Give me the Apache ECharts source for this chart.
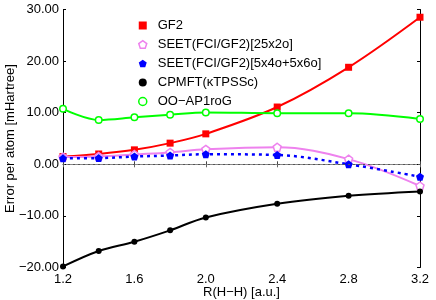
<!DOCTYPE html>
<html><head><meta charset="utf-8">
<script src="https://cdn.jsdelivr.net/npm/echarts@6/dist/echarts.min.js"></script>
<style>html,body{margin:0;padding:0;background:#fff}#c{width:436px;height:300px}</style>
</head><body><div id="c"></div>
<script>
const xs = [1.2, 1.4, 1.6, 1.8, 2.0, 2.4, 2.8, 3.2];
const gf2 = [1.5, 2.0, 2.8, 4.1, 5.9, 11.1, 18.8, 28.5];
const seet25 = [1.4, 1.5, 1.9, 2.3, 2.9, 3.3, 1.0, -4.2];
const seet5 = [1.15, 1.2, 1.5, 1.7, 1.95, 1.8, 0.0, -2.4];
const cpmft = [-19.8, -16.8, -15.0, -12.8, -10.3, -7.65, -6.1, -5.25];
const oo = [10.75, 8.6, 9.1, 9.6, 10.05, 9.9, 9.9, 8.8];
const xTicks = [1.2, 1.6, 2.0, 2.4, 2.8, 3.2];
const yTicks = [-20, -10, 0, 10, 20, 30];
const names = ['GF2', 'SEET(FCI/GF2)[25x2o]', 'SEET(FCI/GF2)[5x4o+5x6o]', 'CPMFT(\u03baTPSSc)', 'OO\u2212AP1roG'];

const FONT = 'Liberation Sans, Arial, sans-serif';
const pent = 'path://M0,-1 L0.951,-0.309 L0.588,0.809 L-0.588,0.809 L-0.951,-0.309 Z';
const pair = a => xs.map((x, i) => [x, a[i]]);
const fmtY = v => (v < 0 ? '\u2212' : '') + Math.abs(v).toFixed(2);

const chart = echarts.init(document.getElementById('c'), null, {renderer: 'canvas'});
chart.setOption({
  animation: false,
  grid: {left: 63, right: 16, top: 9.5, bottom: 32.5, containLabel: false, outerBoundsMode: 'none'},
  legend: {
    orient: 'vertical', left: 133, top: 14, itemGap: 6,
    itemWidth: 8, itemHeight: 8,
    textStyle: {fontFamily: FONT, fontSize: 13, color: '#000', padding: [0, 0, 0, 6]},
    data: [
      {name: names[0], icon: 'rect', itemStyle: {color: '#ff0000'}},
      {name: names[1], icon: pent, itemStyle: {color: '#fff', borderColor: '#ee82ee', borderWidth: 1.5}},
      {name: names[2], icon: pent, itemStyle: {color: '#0000ff'}},
      {name: names[3], icon: 'circle', itemStyle: {color: '#000'}},
      {name: names[4], icon: 'circle', itemStyle: {color: '#fff', borderColor: '#00ff00', borderWidth: 1.5}}
    ]
  },
  xAxis: [{
    type: 'value', min: xTicks[0], max: xTicks[xTicks.length - 1], interval: 0.4,
    name: 'R(H\u2212H) [a.u.]', nameLocation: 'middle', nameGap: 18, nameMoveOverlap: false,
    nameTextStyle: {fontFamily: FONT, fontSize: 13, color: '#000'},
    axisLine: {lineStyle: {color: '#444', width: 1}},
    axisTick: {inside: true, length: 3, lineStyle: {color: '#444'}},
    axisLabel: {fontFamily: FONT, fontSize: 13, color: '#000', margin: 5, formatter: v => v.toFixed(1)},
    splitLine: {show: false}
  }, {
    type: 'value', position: 'top', min: xTicks[0], max: xTicks[xTicks.length - 1], interval: 0.4,
    axisLine: {lineStyle: {color: '#888', width: 1}},
    axisTick: {inside: true, length: 3, lineStyle: {color: '#666'}},
    axisLabel: {show: false}, splitLine: {show: false}
  }],
  yAxis: [{
    type: 'value', min: yTicks[0], max: yTicks[yTicks.length - 1], interval: 10,
    name: 'Error per atom [mHartree]', nameLocation: 'middle', nameGap: 46, nameMoveOverlap: false,
    nameTextStyle: {fontFamily: FONT, fontSize: 13, color: '#000'},
    axisLine: {show: true, lineStyle: {color: '#000', width: 1}},
    axisTick: {show: true, inside: true, length: 3, lineStyle: {color: '#000'}},
    axisLabel: {fontFamily: FONT, fontSize: 13, color: '#000', margin: 4, formatter: fmtY},
    splitLine: {show: false}
  }, {
    type: 'value', position: 'right', min: yTicks[0], max: yTicks[yTicks.length - 1], interval: 10,
    axisLine: {show: true, lineStyle: {color: '#000', width: 1}},
    axisTick: {show: true, inside: true, length: 3, lineStyle: {color: '#000'}},
    axisLabel: {show: false}, splitLine: {show: false}
  }],
  series: [
    {name: names[0], type: 'line', data: pair(gf2), smooth: 0.35, symbol: 'rect', symbolSize: 7,
     lineStyle: {color: '#ff0000', width: 2}, itemStyle: {color: '#ff0000'},
     markLine: {silent: true, symbol: 'none', label: {show: false},
       lineStyle: {color: '#555', type: [2, 3], width: 1}, data: [{yAxis: 0}]}},
    {name: names[1], type: 'line', data: pair(seet25), smooth: 0.35, symbol: pent, symbolSize: 8,
     lineStyle: {color: '#ee82ee', width: 2}, itemStyle: {color: '#fff', borderColor: '#ee82ee', borderWidth: 1.5}},
    {name: names[2], type: 'line', data: pair(seet5), smooth: 0.35, symbol: pent, symbolSize: 8,
     lineStyle: {color: '#0000ff', width: 2.5, type: [3, 4]}, itemStyle: {color: '#0000ff'}},
    {name: names[3], type: 'line', data: pair(cpmft), smooth: 0.35, symbol: 'circle', symbolSize: 6,
     lineStyle: {color: '#000', width: 2}, itemStyle: {color: '#000'}},
    {name: names[4], type: 'line', data: pair(oo), smooth: 0.35, symbol: 'circle', symbolSize: 6.5,
     lineStyle: {color: '#00ff00', width: 2}, itemStyle: {color: '#fff', borderColor: '#00ff00', borderWidth: 1.5}}
  ]
});
</script></body></html>
